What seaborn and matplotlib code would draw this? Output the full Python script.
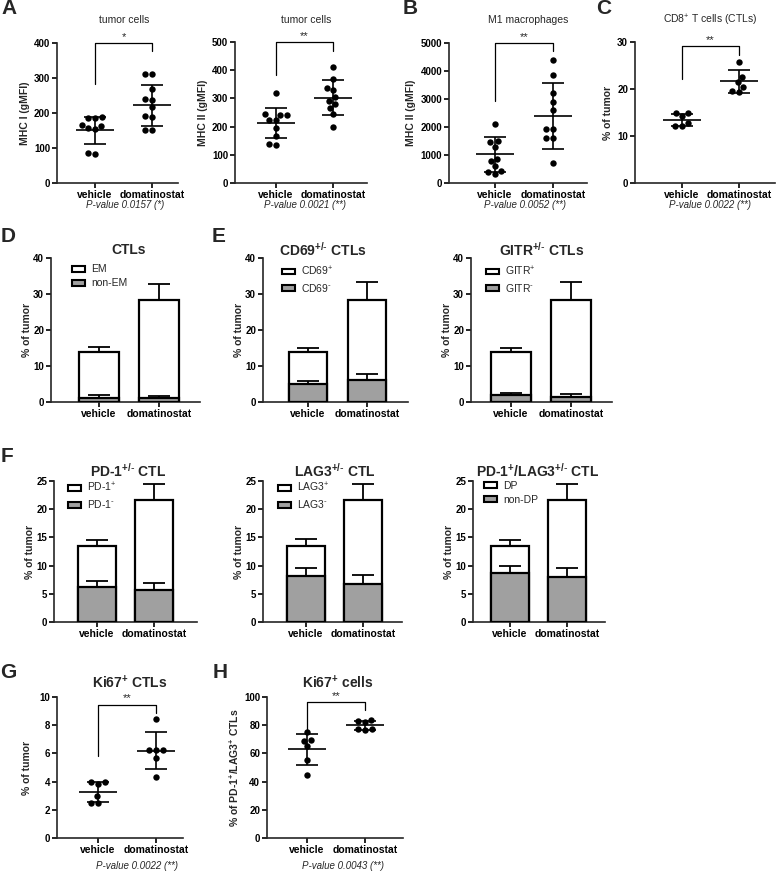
import matplotlib
matplotlib.use("Agg")
import matplotlib.pyplot as plt
from matplotlib.patches import Patch
import seaborn as sns
import pandas as pd
import numpy as np

groups = ["vehicle", "domatinostat"]

# ---- scatter panels (points, mean, SD, bracket [left leg, top, right leg]) ----
mhc1_veh = [188, 187, 186, 165, 162, 158, 155, 86, 84]
mhc1_dom = [312, 312, 269, 240, 238, 217, 190, 188, 152, 150]
mhc1_mean = [150, 222]
mhc1_sd = [38, 58]
mhc1_bracket = [284, 400, 376]

mhc2_veh = [318, 243, 242, 241, 225, 223, 195, 165, 137, 135]
mhc2_dom = [410, 368, 338, 330, 305, 292, 280, 265, 245, 200]
mhc2_mean = [212, 303]
mhc2_sd = [53, 62]
mhc2_bracket = [384, 500, 467]

m1_veh = [2100, 1500, 1450, 1300, 850, 800, 620, 420, 380, 330]
m1_dom = [4380, 3850, 3220, 2900, 2620, 1930, 1920, 1600, 1590, 730]
m1_mean = [1021, 2400]
m1_sd = [630, 1185]
m1_bracket = [2930, 5000, 4715]

cd8_veh = [14.9, 14.8, 14.2, 12.8, 12.2, 12.1]
cd8_dom = [25.8, 22.6, 21.5, 20.5, 19.5, 19.4]
cd8_mean = [13.4, 21.6]
cd8_sd = [1.25, 2.5]
cd8_bracket = [22.1, 29.1, 27.3]

ki67_veh = [3.95, 3.95, 3.85, 2.95, 2.5, 2.5]
ki67_dom = [8.45, 6.25, 6.25, 6.25, 5.65, 4.35]
ki67_mean = [3.26, 6.19]
ki67_sd = [0.74, 1.33]
ki67_bracket = [5.8, 9.45, 8.9]

ki67dp_veh = [75.5, 69.5, 69.0, 65.0, 55.0, 45.0]
ki67dp_dom = [83.5, 83.0, 82.0, 77.0, 77.0, 76.5]
ki67dp_mean = [63.1, 79.9]
ki67dp_sd = [11.0, 3.3]
ki67dp_bracket = [76.1, 96.2, 90.5]

# ---- stacked bars: total (white) and negative / lower part (grey), upward SD ----
ctl_total = [14.0, 28.2]
ctl_total_err = [1.2, 4.6]
ctl_em_neg = [1.1, 1.0]
ctl_em_neg_err = [0.8, 0.6]

cd69_total = [14.0, 28.2]
cd69_total_err = [1.0, 5.0]
cd69_neg = [4.95, 6.1]
cd69_neg_err = [0.85, 1.6]

gitr_total = [14.0, 28.2]
gitr_total_err = [1.0, 5.2]
gitr_neg = [2.0, 1.4]
gitr_neg_err = [0.6, 0.7]

pd1_total = [13.4, 21.6]
pd1_total_err = [1.2, 2.8]
pd1_neg = [6.2, 5.7]
pd1_neg_err = [1.1, 1.2]

lag3_total = [13.4, 21.6]
lag3_total_err = [1.3, 2.9]
lag3_neg = [8.1, 6.8]
lag3_neg_err = [1.5, 1.5]

dp_total = [13.4, 21.6]
dp_total_err = [1.2, 2.8]
dp_neg = [8.6, 8.0]
dp_neg_err = [1.3, 1.5]

sns.set_style("ticks")
plt.rcParams["font.family"] = ["Liberation Sans", "DejaVu Sans"]
plt.rcParams["mathtext.default"] = "regular"
plt.rcParams["axes.linewidth"] = 1.2

W, H = 778, 871
fig = plt.figure(figsize=(W / 100, H / 100), dpi=100)


def axes_px(l, t, r, b, t0, t1):
    ax = fig.add_axes([l / W, 1 - b / H, (r - l) / W, (b - t) / H])
    sp = t1 - t0
    ax._xl = ((l - t0) / sp, 1 + (r - t1) / sp)
    ax._wpx = r - l
    return ax


def style_axes(ax, ymax, ystep, ylabel, labelpad):
    ax.set_xlim(*ax._xl)
    ax.set_ylim(0, ymax)
    ax.set_yticks(np.arange(0, ymax + ystep / 2, ystep))
    ax.set_xticks([0, 1])
    ax.set_xticklabels(groups, fontweight="bold", fontsize=7.5)
    for lab in ax.get_yticklabels():
        lab.set_fontweight("bold")
        lab.set_fontsize(7)
    ax.set_xlabel("")
    ax.set_ylabel(ylabel, fontweight="bold", fontsize=7.5, labelpad=labelpad)
    ax.tick_params(direction="out", length=3.5, width=1.2, pad=1.5, colors="black")
    sns.despine(ax=ax)


def scatter_panel(ax, veh, dom, mean, sd, bracket, stars, ymax, ystep, ylabel, labelpad=3):
    df = pd.DataFrame({"group": ["vehicle"] * len(veh) + ["domatinostat"] * len(dom),
                       "value": veh + dom})
    sns.swarmplot(data=df, x="group", y="value", order=groups, color="black",
                  size=4.6, ax=ax, zorder=3)
    for i in range(2):
        ax.hlines(mean[i], i - 0.33, i + 0.33, color="black", lw=1.2, zorder=4)
        ax.vlines(i, mean[i] - sd[i], mean[i] + sd[i], color="black", lw=1.2, zorder=4)
        ax.hlines([mean[i] - sd[i], mean[i] + sd[i]], i - 0.19, i + 0.19,
                  color="black", lw=1.2, zorder=4)
    lo0, top, lo1 = bracket
    ax.plot([0, 0, 1, 1], [lo0, top, top, lo1], color="black", lw=0.9, clip_on=False)
    ax.annotate(stars, (0.5, top), xytext=(0, 1), textcoords="offset points",
                ha="center", va="bottom", fontsize=8, annotation_clip=False)
    style_axes(ax, ymax, ystep, ylabel, labelpad)


def stacked_panel(ax, total, total_err, neg, neg_err, labels, ymax, ystep,
                  leg_off, leg_y):
    sns.barplot(x=groups, y=total, color="white", edgecolor="black", linewidth=1.6,
                width=0.66, saturation=1, errorbar=None, ax=ax, zorder=2)
    sns.barplot(x=groups, y=neg, color="#a0a0a0", edgecolor="black", linewidth=1.6,
                width=0.66, saturation=1, errorbar=None, ax=ax, zorder=3)
    x = [0, 1]
    ax.errorbar(x, total, yerr=[[0, 0], total_err], fmt="none", ecolor="black",
                elinewidth=1.3, capsize=8, capthick=1.3, zorder=1)
    ax.errorbar(x, neg, yerr=[[0, 0], neg_err], fmt="none", ecolor="black",
                elinewidth=1.3, capsize=8, capthick=1.3, zorder=2.5)
    handles = [Patch(facecolor="white", edgecolor="black", lw=1.5),
               Patch(facecolor="#a0a0a0", edgecolor="black", lw=1.5)]
    ax.legend(handles, labels, loc="upper left",
              bbox_to_anchor=((leg_off - 4) / ax._wpx, leg_y),
              frameon=False, handlelength=1.2, handleheight=0.5, handletextpad=0.6,
              labelspacing=0.4, borderaxespad=0, prop={"size": 7.5})
    style_axes(ax, ymax, ystep, "% of tumor", 1)


# ---------------- row 1 ----------------
ax = axes_px(57, 43, 178, 183, 95, 152)
scatter_panel(ax, mhc1_veh, mhc1_dom, mhc1_mean, mhc1_sd, mhc1_bracket, "*",
              400, 100, "MHC I (gMFI)")
ax = axes_px(235, 42, 367, 183, 276, 333)
scatter_panel(ax, mhc2_veh, mhc2_dom, mhc2_mean, mhc2_sd, mhc2_bracket, "**",
              500, 100, "MHC II (gMFI)")
ax = axes_px(449, 43, 587, 183, 495, 553)
scatter_panel(ax, m1_veh, m1_dom, m1_mean, m1_sd, m1_bracket, "**",
              5000, 1000, "MHC II (gMFI)")
ax = axes_px(635, 42, 775, 183, 682, 739)
scatter_panel(ax, cd8_veh, cd8_dom, cd8_mean, cd8_sd, cd8_bracket, "**",
              30, 10, "% of tumor")

# ---------------- row 2 (D, E) ----------------
ax = axes_px(51, 258, 200, 402, 99, 159)
stacked_panel(ax, ctl_total, ctl_total_err, ctl_em_neg, ctl_em_neg_err,
              ["EM", "non-EM"], 40, 10, 21, 0.985)
ax = axes_px(263, 258, 408, 402, 308, 367)
stacked_panel(ax, cd69_total, cd69_total_err, cd69_neg, cd69_neg_err,
              [r"CD69$^{+}$", r"CD69$^{\text{-}}$"], 40, 10, 19, 0.985)
ax = axes_px(471, 258, 612, 402, 511, 571)
stacked_panel(ax, gitr_total, gitr_total_err, gitr_neg, gitr_neg_err,
              [r"GITR$^{+}$", r"GITR$^{\text{-}}$"], 40, 10, 15, 0.985)

# ---------------- row 3 (F) ----------------
ax = axes_px(54, 481, 197, 622, 97, 154)
stacked_panel(ax, pd1_total, pd1_total_err, pd1_neg, pd1_neg_err,
              [r"PD-1$^{+}$", r"PD-1$^{\text{-}}$"], 25, 5, 14, 1.03)
ax = axes_px(263, 481, 402, 622, 306, 363)
stacked_panel(ax, lag3_total, lag3_total_err, lag3_neg, lag3_neg_err,
              [r"LAG3$^{+}$", r"LAG3$^{\text{-}}$"], 25, 5, 15, 1.03)
ax = axes_px(473, 481, 605, 622, 510, 567)
stacked_panel(ax, dp_total, dp_total_err, dp_neg, dp_neg_err,
              ["DP", "non-DP"], 25, 5, 11, 1.03)

# ---------------- row 4 (G, H) ----------------
ax = axes_px(57, 697, 183, 838, 98, 156)
scatter_panel(ax, ki67_veh, ki67_dom, ki67_mean, ki67_sd, ki67_bracket, "**",
              10, 2, "% of tumor", labelpad=5)
ax = axes_px(267, 697, 403, 838, 307, 365)
scatter_panel(ax, ki67dp_veh, ki67dp_dom, ki67dp_mean, ki67dp_sd, ki67dp_bracket, "**",
              100, 20, "% of PD-1$^{+}$/LAG3$^{+}$ CTLs", labelpad=2)


def ftext(x, y, s, **kw):
    fig.text(x / W, 1 - y / H, s, ha="center", va="center", **kw)


# panel letters
for letter, x, y in [("A", 9, 9), ("B", 410, 8), ("C", 604, 8), ("D", 8, 236),
                     ("E", 219, 236), ("F", 7, 456), ("G", 8, 672), ("H", 220, 672)]:
    ftext(x, y, letter, fontsize=15, fontweight="bold")

# titles
pm = r"$^{+/\text{-}}$"
ftext(124, 20, "tumor cells", fontsize=7.5)
ftext(306, 20, "tumor cells", fontsize=7.5)
ftext(528, 20, "M1 macrophages", fontsize=7.5)
ftext(710, 20, "CD8$^{+}$ T cells (CTLs)", fontsize=7.5)
ftext(129, 250, "CTLs", fontsize=10, fontweight="bold")
ftext(323, 250, "CD69" + pm + " CTLs", fontsize=10, fontweight="bold")
ftext(542, 250, "GITR" + pm + " CTLs", fontsize=10, fontweight="bold")
ftext(128, 471, "PD-1" + pm + " CTL", fontsize=10, fontweight="bold")
ftext(335, 471, "LAG3" + pm + " CTL", fontsize=10, fontweight="bold")
ftext(538, 471, "PD-1$^{+}$/LAG3" + pm + " CTL", fontsize=10, fontweight="bold")
ftext(130, 683, "Ki67$^{+}$ CTLs", fontsize=10, fontweight="bold")
ftext(338, 683, "Ki67$^{+}$ cells", fontsize=10, fontweight="bold")

# p-values
for x, y, s in [(125, 205, "P-value 0.0157 (*)"), (305, 205, "P-value 0.0021 (**)"),
                (525, 205, "P-value 0.0052 (**)"), (710, 205, "P-value 0.0022 (**)"),
                (137, 866, "P-value 0.0022 (**)"), (343, 866, "P-value 0.0043 (**)")]:
    ftext(x, y, s, fontsize=7, style="italic")

fig.savefig("out.png", dpi=100)
